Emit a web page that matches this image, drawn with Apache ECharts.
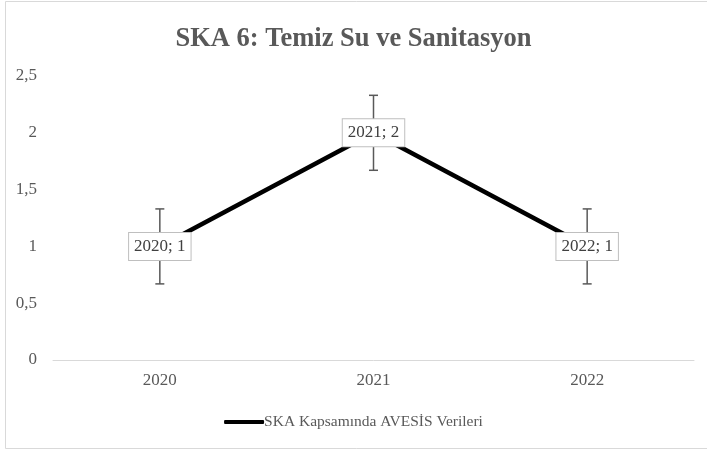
<!DOCTYPE html>
<html>
<head>
<meta charset="utf-8">
<script src="https://cdn.jsdelivr.net/npm/echarts@6/dist/echarts.min.js"></script>
<style>
  html, body { margin: 0; padding: 0; background: #fff; }
  #chart { width: 707px; height: 451px; }
</style>
</head>
<body>
<div id="chart"></div>
<script>
// data
const years = ['2020', '2021', '2022']
const values = [1, 2, 1]
const errMinus = [0.33, 0.33, 0.33]
const errPlus = [0.33, 0.33, 0.33]
const seriesName = 'SKA Kapsamında AVESİS Verileri'
const titleText = 'SKA 6: Temiz Su ve Sanitasyon'

const serif = '"Liberation Serif", "Times New Roman", serif'
const gray = '#595959'

const errData = years.map((y, i) => [i, values[i] - errMinus[i], values[i] + errPlus[i]])

const myEcharts = echarts.init(document.getElementById('chart'))
myEcharts.setOption({
  animation: false,
  backgroundColor: '#fff',
  graphic: [{
    type: 'rect',
    shape: { x: 5.5, y: 1.5, width: 708, height: 447 },
    style: { fill: 'none', stroke: '#d9d9d9', lineWidth: 1 },
    silent: true
  }],
  title: {
    text: titleText,
    left: 'center',
    top: 21,
    textStyle: { fontFamily: serif, fontSize: 26.5, fontWeight: 'bold', color: gray }
  },
  legend: {
    bottom: 16,
    left: 'center',
    itemWidth: 40,
    itemHeight: 4,
    itemGap: 10,
    icon: 'roundRect',
    data: [seriesName],
    textStyle: { fontFamily: serif, fontSize: 15.5, color: gray, padding: [0, 0, 0, -5] }
  },
  grid: { left: 53, right: 13, top: 76, bottom: 91 },
  xAxis: {
    type: 'category',
    data: years,
    axisLine: { lineStyle: { color: '#d9d9d9', width: 1 } },
    axisTick: { show: false },
    axisLabel: { fontFamily: serif, fontSize: 17, color: gray, margin: 12 }
  },
  yAxis: {
    type: 'value',
    min: 0,
    max: 2.5,
    interval: 0.5,
    splitLine: { show: false },
    axisLine: { show: false },
    axisTick: { show: false },
    axisLabel: {
      fontFamily: serif, fontSize: 17, color: gray, margin: 16,
      formatter: v => String(v).replace('.', ',')
    }
  },
  series: [
    {
      type: 'custom',
      name: 'err',
      z: 1,
      silent: true,
      data: errData,
      renderItem: (params, api) => {
        const x = api.coord([api.value(0), api.value(1)])[0]
        const lo = api.coord([api.value(0), api.value(1)])[1]
        const hi = api.coord([api.value(0), api.value(2)])[1]
        const cap = 4.5
        const st = { stroke: gray, lineWidth: 1.5, fill: 'none' }
        return {
          type: 'group',
          children: [
            { type: 'line', shape: { x1: x, y1: lo, x2: x, y2: hi }, style: st },
            { type: 'line', shape: { x1: x - cap, y1: lo, x2: x + cap, y2: lo }, style: st },
            { type: 'line', shape: { x1: x - cap, y1: hi, x2: x + cap, y2: hi }, style: st }
          ]
        }
      }
    },
    {
      type: 'line',
      name: seriesName,
      z: 3,
      data: values,
      symbol: 'circle',
      symbolSize: 0.1,
      itemStyle: { color: '#000' },
      lineStyle: { color: '#000', width: 4.5 },
      label: {
        show: true,
        position: 'inside',
        formatter: p => years[p.dataIndex] + '; ' + String(p.value).replace('.', ','),
        fontFamily: serif,
        fontSize: 17,
        color: '#404040',
        backgroundColor: '#fff',
        borderColor: '#bfbfbf',
        borderWidth: 1,
        padding: [5, 5, 5, 5]
      }
    }
  ]
})
</script>
</body>
</html>
